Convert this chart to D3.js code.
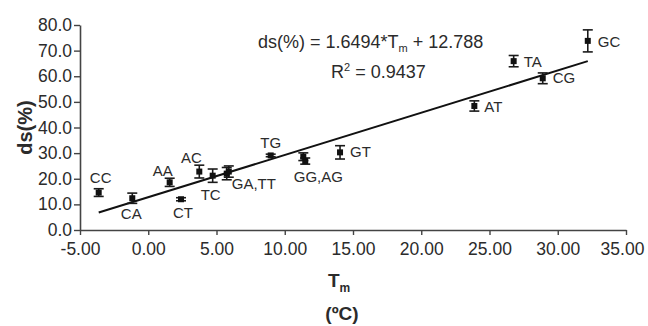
<!DOCTYPE html>
<html>
<head>
<meta charset="utf-8">
<script src="https://cdn.jsdelivr.net/npm/d3@7"></script>
<style>
  body { margin: 0; background: #fff; }
  text { font-family: "Liberation Sans", Arial, Helvetica, sans-serif; fill: #2b2b2b; }
</style>
</head>
<body>
<div id="chart"></div>
<script>
// dinucleotide pairs, Tm (x) and ds% (y) with error
var pairs = ["CC", "CA", "AA", "CT", "AC", "TC", "GA", "TT", "TG", "GG", "AG", "GT", "AT", "TA", "CG", "GC"];
var tmValues = [-3.63, -1.17, 1.57, 2.4, 3.74, 4.72, 5.75, 5.9, 8.97, 11.36, 11.5, 14.05, 23.89, 26.77, 28.9, 32.2];
var dsValues = [14.6, 12.4, 18.6, 12.0, 22.8, 21.2, 22.0, 22.8, 29.1, 28.6, 26.9, 30.3, 48.4, 65.9, 59.2, 73.8];
var dsErrors = [1.5, 2.0, 1.6, 0.6, 2.5, 2.6, 2.4, 2.2, 0.5, 1.5, 1.2, 2.6, 2.0, 2.2, 2.1, 4.3];

var xTicks = [-5, 0, 5, 10, 15, 20, 25, 30, 35];
var yTicks = [0, 10, 20, 30, 40, 50, 60, 70, 80];

// linear fit shown on the chart
var slope = 1.6494, intercept = 12.788, rSquared = "0.9437";

// text labels: which pair they sit next to
var labelTexts = ["CC", "CA", "AA", "CT", "AC", "TC", "GA,TT", "TG", "GG,AG", "GT", "AT", "TA", "CG", "GC"];
var labelPairs = ["CC", "CA", "AA", "CT", "AC", "TC", "GA", "TG", "GG", "GT", "AT", "TA", "CG", "GC"];

// placement of each label relative to its point (px)
var labelPlace = {
  "CC": [2, -10, "middle"], "CA": [-1, 21, "middle"], "AA": [-7, -6, "middle"],
  "CT": [2, 19, "middle"], "AC": [-8, -9, "middle"], "TC": [-2, 24, "middle"],
  "GA,TT": [5, 15, "start"], "TG": [0, -7, "middle"], "GG,AG": [15, 25, "middle"],
  "GT": [10, 5, "start"], "AT": [10, 6, "start"], "TA": [10, 6, "start"],
  "CG": [10, 5, "start"], "GC": [10, 6, "start"]
};

var width = 648, height = 326,
    margin = {top: 25, right: 22, bottom: 96, left: 80};

var svg = d3.select("#chart").append("svg")
  .attr("width", width)
  .attr("height", height);

var x = d3.scaleLinear().domain([-5, 35]).range([margin.left, width - margin.right]);
var y = d3.scaleLinear().domain([0, 80]).range([height - margin.bottom, margin.top]);

var points = pairs.map(function (p, i) {
  return {pair: p, tm: tmValues[i], ds: dsValues[i], err: dsErrors[i]};
});

// axes (plain hyphen for negatives, like the original)
var xAxis = d3.axisBottom(x).tickValues(xTicks).tickFormat(d => d.toFixed(2)).tickSize(5).tickSizeOuter(0).tickPadding(8);
var yAxis = d3.axisLeft(y).tickValues(yTicks).tickFormat(d => d.toFixed(1)).tickSize(6).tickSizeOuter(0).tickPadding(2);

var gx = svg.append("g")
  .attr("transform", "translate(0," + y(0) + ")")
  .call(xAxis);
var gy = svg.append("g")
  .attr("transform", "translate(" + x(-5) + ",0)")
  .call(yAxis);

[gx, gy].forEach(function (g) {
  g.select(".domain").attr("stroke", "#444").attr("stroke-width", 1.6);
  g.selectAll(".tick line").attr("stroke", "#444").attr("stroke-width", 1.4);
  g.selectAll(".tick text").style("font-size", "17.5px").attr("fill", "#2b2b2b");
});
gx.selectAll(".tick text").filter(function (d) { return d === 35; }).attr("dx", -4);

// regression line
var tmExtent = d3.extent(tmValues);
svg.append("line")
  .attr("x1", x(tmExtent[0])).attr("y1", y(slope * tmExtent[0] + intercept))
  .attr("x2", x(tmExtent[1])).attr("y2", y(slope * tmExtent[1] + intercept))
  .attr("stroke", "#111").attr("stroke-width", 2);

// error bars
var capW = 5;
var bars = svg.append("g").selectAll("g").data(points).enter().append("g")
  .attr("stroke", "#1a1a1a").attr("stroke-width", 1.6);
bars.append("line")
  .attr("x1", d => x(d.tm)).attr("x2", d => x(d.tm))
  .attr("y1", d => y(d.ds + d.err)).attr("y2", d => y(d.ds - d.err));
bars.append("line")
  .attr("x1", d => x(d.tm) - capW).attr("x2", d => x(d.tm) + capW)
  .attr("y1", d => y(d.ds + d.err)).attr("y2", d => y(d.ds + d.err));
bars.append("line")
  .attr("x1", d => x(d.tm) - capW).attr("x2", d => x(d.tm) + capW)
  .attr("y1", d => y(d.ds - d.err)).attr("y2", d => y(d.ds - d.err));

// markers
svg.append("g").selectAll("rect").data(points).enter().append("rect")
  .attr("x", d => x(d.tm) - 3)
  .attr("y", d => y(d.ds) - 3)
  .attr("width", 6).attr("height", 6)
  .attr("fill", "#111");

// point labels
svg.append("g").selectAll("text").data(labelTexts).enter().append("text")
  .attr("x", function (t, i) { var p = points[pairs.indexOf(labelPairs[i])]; return x(p.tm) + labelPlace[t][0]; })
  .attr("y", function (t, i) { var p = points[pairs.indexOf(labelPairs[i])]; return y(p.ds) + labelPlace[t][1]; })
  .attr("text-anchor", t => labelPlace[t][2])
  .style("font-size", "15px")
  .text(t => t);

// equation
var eq = svg.append("text").attr("x", 258).attr("y", 48).style("font-size", "18px");
eq.append("tspan").text("ds(%) = " + slope + "*T");
eq.append("tspan").attr("dy", 4).style("font-size", "11px").text("m");
eq.append("tspan").attr("dy", -4).text(" + " + intercept);

var r2 = svg.append("text").attr("x", 331).attr("y", 78).style("font-size", "18px");
r2.append("tspan").text("R");
r2.append("tspan").attr("dy", -7).style("font-size", "11px").text("2");
r2.append("tspan").attr("dy", 7).text(" = " + rSquared);

// axis titles
svg.append("text")
  .attr("transform", "translate(32," + y(40) + ") rotate(-90)")
  .attr("text-anchor", "middle")
  .style("font-size", "20px").style("font-weight", "bold")
  .text("ds(%)");

var xt = svg.append("text").attr("x", 328).attr("y", 287)
  .style("font-size", "19px").style("font-weight", "bold");
xt.append("tspan").text("T");
xt.append("tspan").attr("dy", 5).style("font-size", "12px").text("m");

svg.append("text").attr("x", 342).attr("y", 320)
  .attr("text-anchor", "middle")
  .style("font-size", "19px").style("font-weight", "bold")
  .text("(ºC)");
</script>
</body>
</html>
